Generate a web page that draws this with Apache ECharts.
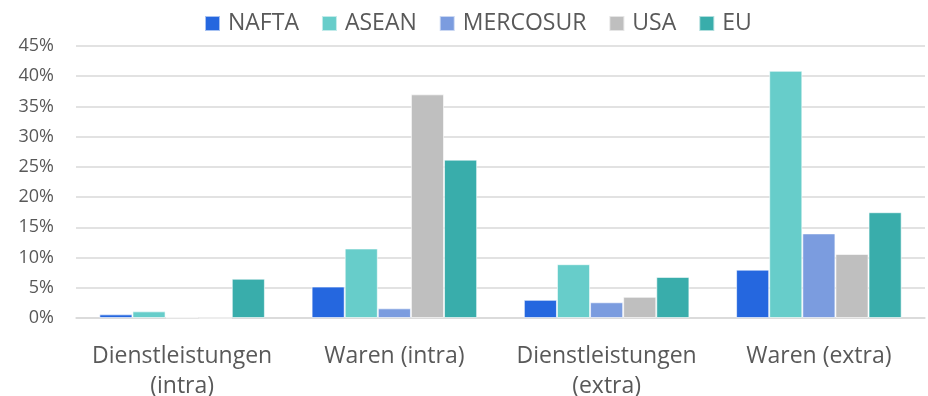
<!DOCTYPE html>
<html>
<head>
<meta charset="utf-8">
<script src="https://cdn.jsdelivr.net/npm/echarts@6/dist/echarts.min.js"></script>
<style>
  html, body { margin: 0; padding: 0; background: #fff; }
  #chart { width: 928px; height: 396px; }
</style>
</head>
<body>
<div id="chart"></div>
<script>
// Anteil je Wirtschaftsraum und Handelsart (in Prozent)
const categories = ['Dienstleistungen\n(intra)', 'Waren (intra)', 'Dienstleistungen\n(extra)', 'Waren (extra)'];
const seriesNames = ['NAFTA', 'ASEAN', 'MERCOSUR', 'USA', 'EU'];
const nafta    = [0.6, 5.2, 3.0, 8.0];
const asean    = [1.1, 11.5, 8.9, 40.9];
const mercosur = [0.1, 1.6, 2.6, 14.0];
const usa      = [0.0, 37.0, 3.5, 10.6];
const eu       = [6.5, 26.2, 6.8, 17.5];
const colors = ['#2567DF', '#67CDCA', '#7B9CDF', '#BFBFBF', '#39ADAB'];
const yTicks = [0, 5, 10, 15, 20, 25, 30, 35, 40, 45];

const values = [nafta, asean, mercosur, usa, eu];
const fontFamily = '"Open Sans", "Liberation Sans", sans-serif';

const chart = echarts.init(document.getElementById('chart'), null, { renderer: 'canvas' });
chart.setOption({
  animation: false,
  color: colors,
  textStyle: { fontFamily: fontFamily },
  legend: {
    top: 12,
    left: 204,
    padding: 0,
    itemWidth: 15,
    itemHeight: 15,
    itemGap: 22,
    icon: 'rect',
    textStyle: { fontSize: 23, color: '#595959', fontFamily: fontFamily, padding: [0, 0, 0, 3] },
    data: seriesNames
  },
  grid: { left: 76, right: 3, top: 46, bottom: 78, outerBoundsMode: 'none' },
  xAxis: {
    type: 'category',
    data: categories,
    axisTick: { show: false },
    axisLine: { lineStyle: { color: '#D9D9D9', width: 1.5 } },
    axisLabel: {
      fontSize: 23,
      color: '#595959',
      lineHeight: 30,
      margin: 23,
      interval: 0,
      fontFamily: fontFamily
    }
  },
  yAxis: {
    type: 'value',
    min: yTicks[0],
    max: yTicks[yTicks.length - 1],
    interval: 5,
    axisLine: { show: false },
    axisTick: { show: false },
    splitLine: { lineStyle: { color: '#D9D9D9', width: 1.5 } },
    axisLabel: {
      fontSize: 18,
      color: '#595959',
      margin: 22,
      fontFamily: fontFamily,
      formatter: v => v + '%'
    }
  },
  series: seriesNames.map((name, i) => ({
    name: name,
    type: 'bar',
    data: values[i],
    barGap: '0%',
    barCategoryGap: '22%',
    itemStyle: { borderColor: 'rgba(255,255,255,0.6)', borderWidth: 1 }
  }))
});
</script>
</body>
</html>
